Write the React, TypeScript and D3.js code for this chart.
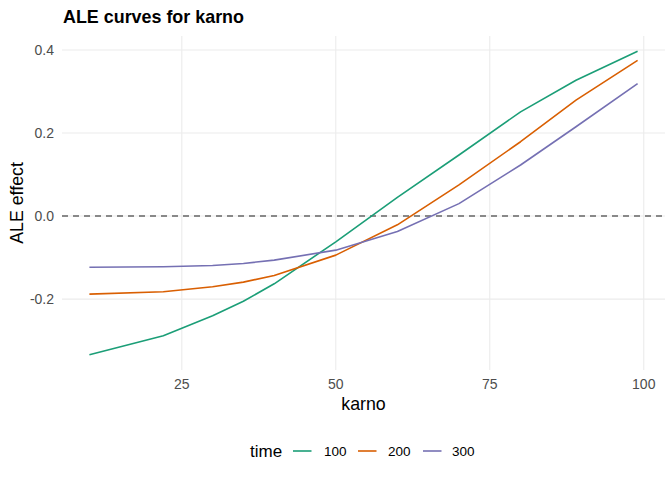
// @ts-nocheck
import * as d3 from "d3";

const karno = [10, 22, 30, 35, 40, 50, 60, 70, 80, 89, 99];
const times = ["100", "200", "300"];
const ale100 = [-0.334, -0.288, -0.240, -0.205, -0.163, -0.062, 0.045, 0.147, 0.251, 0.327, 0.397];
const ale200 = [-0.188, -0.182, -0.170, -0.159, -0.143, -0.094, -0.021, 0.075, 0.179, 0.279, 0.375];
const ale300 = [-0.123, -0.122, -0.119, -0.114, -0.106, -0.082, -0.037, 0.030, 0.123, 0.215, 0.319];
const xTicks = [25, 50, 75, 100];
const yTicks = [-0.2, 0.0, 0.2, 0.4];
const colors = ["#1B9E77", "#D95F02", "#7570B3"];

const W = 672;
const H = 480;
const font = "'Liberation Sans', Arial, sans-serif";

function expand([lo, hi]: number[]) {
  const pad = (hi - lo) * 0.05;
  return [lo - pad, hi + pad];
}

// ggplot style labels: plain hyphen for negatives
const fmt = (v: number) => d3.format(".1f")(v).replace("\u2212", "-");

export default function App() {
  const panel = { left: 62, right: 665, top: 36, bottom: 370 };
  const series = [ale100, ale200, ale300];

  const allY = [...ale100, ...ale200, ...ale300, 0];
  const x = d3.scaleLinear(expand(d3.extent(karno)), [panel.left, panel.right]);
  const y = d3.scaleLinear(expand(d3.extent(allY)), [panel.bottom, panel.top]);

  const line = d3.line<number>((_, i) => x(karno[i]), (d) => y(d));

  const cx = (panel.left + panel.right) / 2;
  const cy = (panel.top + panel.bottom) / 2;

  // legend layout
  const legY = 451;
  const keys = [
    { key: 293, text: 324 },
    { key: 358, text: 388 },
    { key: 423, text: 452 },
  ];

  return (
    <svg width={W} height={H} style={{ position: "absolute", left: 0, top: 0, background: "#fff" }} fontFamily={font}>
      {/* grid */}
      <g stroke="#EBEBEB" strokeWidth={1.07}>
        {xTicks.map((t) => (
          <line key={"gx" + t} x1={x(t)} x2={x(t)} y1={panel.top} y2={panel.bottom} />
        ))}
        {yTicks.map((t) => (
          <line key={"gy" + t} x1={panel.left} x2={panel.right} y1={y(t)} y2={y(t)} />
        ))}
      </g>

      {/* zero reference */}
      <line x1={panel.left} x2={panel.right} y1={y(0)} y2={y(0)} stroke="#666666" strokeWidth={1.5} strokeDasharray="6,5" />

      {/* curves */}
      {series.map((s, i) => (
        <path key={times[i]} d={line(s)} fill="none" stroke={colors[i]} strokeWidth={1.6} strokeLinejoin="round" />
      ))}

      {/* y ticks */}
      <g fontSize={14} fill="#4D4D4D" textAnchor="end">
        {yTicks.map((t) => (
          <text key={"ty" + t} x={54} y={y(t)} dy="0.35em">
            {fmt(t)}
          </text>
        ))}
      </g>

      {/* x ticks */}
      <g fontSize={14} fill="#4D4D4D" textAnchor="middle">
        {xTicks.map((t) => (
          <text key={"tx" + t} x={x(t)} y={389}>
            {t}
          </text>
        ))}
      </g>

      {/* axis titles */}
      <text x={cx} y={410} fontSize={17.8} textAnchor="middle" fill="#000">karno</text>
      <text transform={`translate(23,${cy}) rotate(-90)`} fontSize={17.8} textAnchor="middle" fill="#000">ALE effect</text>

      {/* title */}
      <text x={63} y={23} fontSize={17.9} fontWeight="bold" fill="#000">ALE curves for karno</text>

      {/* legend */}
      <text x={250} y={legY} dy="0.35em" fontSize={17} fill="#000">time</text>
      {times.map((t, i) => (
        <g key={"leg" + t}>
          <line x1={keys[i].key} x2={keys[i].key + 18.5} y1={legY} y2={legY} stroke={colors[i]} strokeWidth={1.6} />
          <text x={keys[i].text} y={legY} dy="0.35em" fontSize={13.5} fill="#000">{t}</text>
        </g>
      ))}
    </svg>
  );
}
